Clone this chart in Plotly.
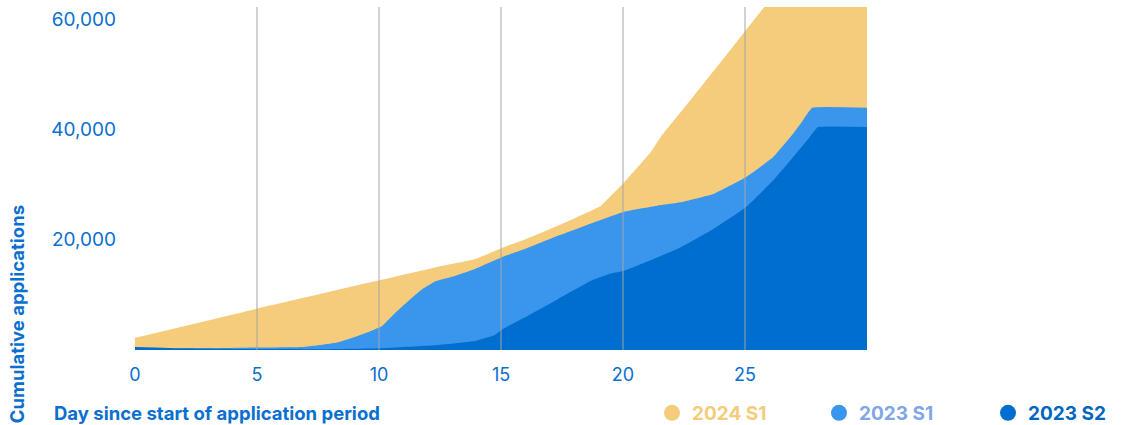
import plotly.graph_objects as go

# Data
days_2024_s1 = [0, 5, 10.1, 12.3, 13.94, 15.08, 15.84, 17.33, 18.69, 19.1, 20.05, 21.13, 21.54, 22.76, 24.12, 25.01, 26, 27, 28, 30]
vals_2024_s1 = [2200, 7500, 12730, 14970, 16490, 18600, 19800, 22540, 25270, 26180, 30420, 35870, 38600, 45270, 52850, 57870, 63400, 69000, 74000, 74000]

days_2023_s1 = [0, 3, 5, 6.88, 8.24, 8.92, 9.6, 10.1, 10.68, 11.2, 11.77, 12.3, 12.99, 13.94, 15.08, 15.97, 17.33, 18.69,
                20.05, 21.4, 22.35, 23.71, 25.03, 26.15, 26.97, 27.37, 27.75, 30]
vals_2023_s1 = [200, 300, 450, 545, 1330, 2240, 3330, 4240, 6790, 8900, 11030, 12420, 13270, 14700, 16900, 18300, 20700, 22960,
                25090, 26180, 26780, 28300, 31330, 34960, 39210, 41630, 43940, 43940]

days_2023_s2 = [0, 2, 4, 6, 8, 10.1, 12.3, 13.94, 14.75, 15.08, 15.97, 17.33, 18.69, 19.5, 20.05, 21.4, 22.35, 23.71,
                25.03, 26.15, 26.97, 27.65, 27.99, 30]
vals_2023_s2 = [550, 300, 200, 200, 150, 300, 850, 1640, 2730, 3800, 5880, 9210, 12540, 13870, 14360, 16780, 18600, 21940,
                25870, 30720, 34960, 38600, 40420, 40420]

series_names = ["2024 S1", "2023 S1", "2023 S2"]
series_colors = ["#F5CC7B", "#3A95ED", "#006ECE"]
legend_text_colors = ["#F5CC7B", "#7FA6E6", "#0066C0"]
legend_x = [0.7063, 0.9344, 1.1653]

grid_days = [5, 10, 15, 20, 25]
x_ticks = [0, 5, 10, 15, 20, 25]
y_ticks = [20000, 40000, 60000]

AXIS_BLUE = "#0A6FCF"
FONT = "Inter, Roboto, sans-serif"

fig = go.Figure()

all_x = [days_2024_s1, days_2023_s1, days_2023_s2]
all_y = [vals_2024_s1, vals_2023_s1, vals_2023_s2]
for xs, ys, name, col in zip(all_x, all_y, series_names, series_colors):
    fig.add_trace(go.Scatter(
        x=xs, y=ys, mode="lines", fill="tozeroy",
        line=dict(color=col, width=0, shape="spline", smoothing=0.3),
        fillcolor=col, name=name, showlegend=False, hoverinfo="skip",
    ))

legend_ids = ["legend", "legend2", "legend3"]
for name, col, tcol, lid in zip(series_names, series_colors, legend_text_colors, legend_ids):
    fig.add_trace(go.Scatter(
        x=[None], y=[None], mode="markers",
        marker=dict(symbol="circle", size=16, color=col),
        name=f"<span style='color:{tcol}'><b>{name}</b></span>",
        showlegend=True, legend=lid,
    ))

for d in grid_days:
    fig.add_shape(type="line", xref="x", yref="paper", x0=d, x1=d, y0=0, y1=1,
                  line=dict(color="#A5A5A5", width=1), layer="above")

legend_common = dict(y=-0.1837, xanchor="left", yanchor="middle", orientation="h",
                     itemsizing="trace", font=dict(size=19, family=FONT),
                     bgcolor="rgba(0,0,0,0)", borderwidth=0)

fig.update_layout(
    width=1123, height=425,
    margin=dict(l=135, r=256, t=7, b=75, autoexpand=False),
    paper_bgcolor="white", plot_bgcolor="white",
    font=dict(family=FONT, color=AXIS_BLUE, size=18),
    xaxis=dict(range=[0, 30], tickvals=x_ticks, showgrid=False, zeroline=False,
               showline=False, ticks="", tickfont=dict(size=18, color=AXIS_BLUE),
               ticklabelstandoff=12),
    yaxis=dict(range=[0, 62200], tickvals=y_ticks, tickformat=",", showgrid=False,
               zeroline=False, showline=False, ticks="",
               tickfont=dict(size=19, color=AXIS_BLUE), ticklabelstandoff=18),
    legend=dict(x=legend_x[0], **legend_common),
    legend2=dict(x=legend_x[1], **legend_common),
    legend3=dict(x=legend_x[2], **legend_common),
    annotations=[
        dict(text="<b>Cumulative applications</b>", xref="paper", yref="paper",
             x=-0.161, y=0.105, textangle=-90, showarrow=False,
             xanchor="center", yanchor="middle",
             font=dict(size=18.5, color=AXIS_BLUE, family=FONT)),
        dict(text="<b>Day since start of application period</b>", xref="paper", yref="paper",
             x=-0.1134, y=-0.1837, showarrow=False, xanchor="left", yanchor="middle",
             font=dict(size=18.5, color=AXIS_BLUE, family=FONT)),
    ],
)

fig.write_html("out.html")
